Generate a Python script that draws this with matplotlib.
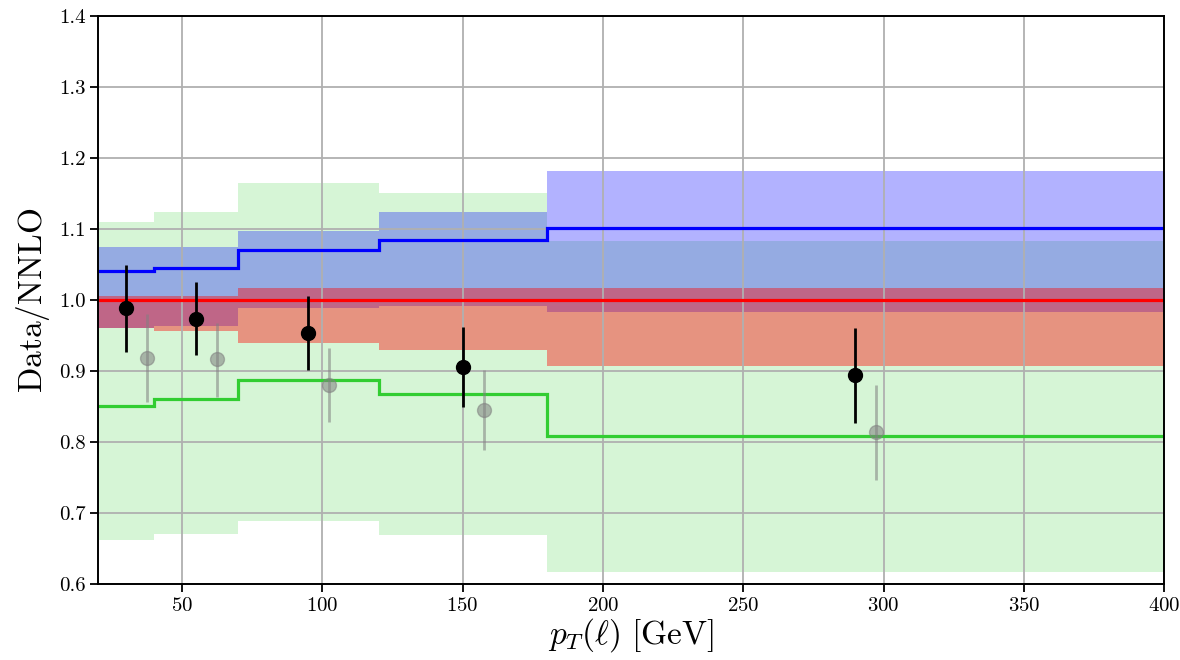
import numpy as np
import matplotlib
matplotlib.use("Agg")
import matplotlib.pyplot as plt

plt.rcParams['font.family'] = 'serif'
plt.rcParams['font.serif'] = ['cmr10']
plt.rcParams['mathtext.fontset'] = 'cm'
plt.rcParams['axes.formatter.use_mathtext'] = True

# bin edges in pT(l) [GeV]
edges = [20, 40, 70, 120, 180, 400]

# green prediction: central line and band
green_line = [0.851, 0.861, 0.887, 0.868, 0.809]
green_lo = [0.662, 0.670, 0.689, 0.669, 0.617]
green_hi = [1.110, 1.124, 1.165, 1.151, 1.083]

# blue prediction
blue_line = [1.041, 1.045, 1.070, 1.085, 1.101]
blue_lo = [0.961, 0.963, 0.989, 0.992, 0.983]
blue_hi = [1.075, 1.075, 1.097, 1.124, 1.182]

# NNLO reference (red)
red_line = [1.0, 1.0, 1.0, 1.0, 1.0]
red_lo = [0.961, 0.956, 0.939, 0.930, 0.907]
red_hi = [1.005, 1.005, 1.017, 1.017, 1.017]

# data points (black)
data_x = [30, 55, 95, 150, 290]
data_y = [0.989, 0.973, 0.954, 0.906, 0.894]
data_up = [1.049, 1.025, 1.006, 0.962, 0.960]
data_dn = [0.927, 0.922, 0.901, 0.849, 0.827]

# second data set (grey, shifted)
data2_x = [37.5, 62.5, 102.5, 157.5, 297.5]
data2_y = [0.918, 0.917, 0.880, 0.845, 0.814]
data2_up = [0.980, 0.968, 0.932, 0.901, 0.880]
data2_dn = [0.856, 0.863, 0.828, 0.789, 0.747]

fig = plt.figure(figsize=(11.8, 6.6), dpi=100)
ax = fig.add_axes([0.083, 0.115, 0.9035, 0.861])

# bands
ax.stairs(green_hi, edges, baseline=green_lo, fill=True, color='limegreen', alpha=0.2, lw=0)
ax.stairs(blue_hi, edges, baseline=blue_lo, fill=True, color='blue', alpha=0.3, lw=0)
ax.stairs(red_hi, edges, baseline=red_lo, fill=True, color='red', alpha=0.4, lw=0)

# central lines (above the grid)
ax.stairs(green_line, edges, color='limegreen', lw=2.3, baseline=None, zorder=2)
ax.stairs(blue_line, edges, color='blue', lw=2.3, baseline=None, zorder=2)
ax.stairs(red_line, edges, color='red', lw=2.3, baseline=None, zorder=2)

# data
yerr2 = [np.array(data2_y) - np.array(data2_dn), np.array(data2_up) - np.array(data2_y)]
ax.errorbar(data2_x, data2_y, yerr=yerr2, fmt='o', color='grey', alpha=0.55,
            ms=10, elinewidth=2, capsize=0, zorder=3)
yerr = [np.array(data_y) - np.array(data_dn), np.array(data_up) - np.array(data_y)]
ax.errorbar(data_x, data_y, yerr=yerr, fmt='o', color='black',
            ms=10, elinewidth=2, capsize=0, zorder=4)

ax.set_xlim(20, 400)
ax.set_ylim(0.6, 1.4)
ax.set_xticks([50, 100, 150, 200, 250, 300, 350, 400])
ax.set_yticks(np.arange(0.6, 1.41, 0.1))
ax.set_yticklabels([f"{v:.1f}" for v in np.arange(0.6, 1.41, 0.1)])
ax.tick_params(labelsize=15, length=5.5, width=1.3)
for s in ax.spines.values():
    s.set_linewidth(1.4)
ax.grid(True, color='#b0b0b0', lw=1.3)

ax.set_xlabel(r'$p_T(\ell)\ [\mathrm{GeV}]$', fontsize=24, labelpad=1)
ax.set_ylabel(r'$\mathrm{Data/NNLO}$', fontsize=24, labelpad=5)

fig.savefig('out.png', dpi=100)
